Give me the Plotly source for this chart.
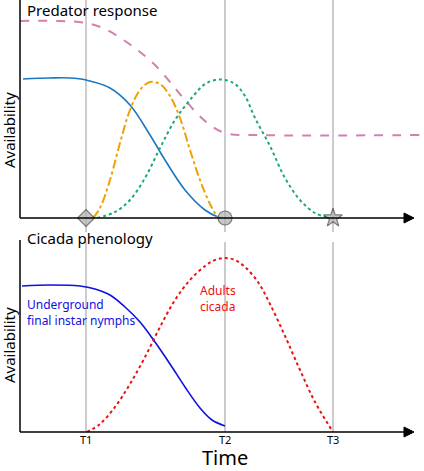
import plotly.graph_objects as go

# top panel (x in time units of the sketch, y = availability)
pink_x = [20, 60, 86, 105, 125, 140, 155, 170, 185, 205, 225, 260, 422]
pink_y = [197, 197, 195, 189, 177, 166, 153, 136, 118, 97, 85, 83, 83]
blue_x = [23, 50, 70, 86, 110, 130, 150, 165, 185, 205, 218, 222]
blue_y = [139, 140, 140, 138, 130, 113, 83, 58, 28, 8, 1, 0]
orange_x = [93, 100, 110, 120, 130, 140, 150, 160, 170, 180, 190, 200, 210, 218]
orange_y = [0, 10, 38, 75, 108, 128, 136, 134, 122, 100, 68, 38, 14, 0]
green_x = [97, 115, 130, 145, 160, 175, 190, 205, 215, 225, 235, 245, 255, 270, 285, 300, 315, 330]
green_y = [0, 6, 18, 40, 70, 98, 118, 134, 138, 138, 134, 122, 100, 72, 40, 18, 5, 0]
mark_x = [86, 225, 333]
mark_sym = ["diamond", "circle", "star"]

# bottom panel
nymph_x = [22, 50, 80, 95, 110, 125, 140, 155, 170, 185, 200, 212, 225]
nymph_y = [146, 147, 146, 143, 137, 125, 110, 90, 68, 45, 24, 12, 6]
adult_x = [87, 100, 115, 130, 145, 160, 175, 190, 205, 215, 225, 235, 245, 258, 270, 285, 300, 315, 333]
adult_y = [0, 8, 25, 48, 75, 105, 132, 152, 166, 172, 174, 172, 165, 150, 128, 96, 62, 30, 0]

ticks = [86, 225, 333]
tick_text = ["T1", "T2", "T3"]

fig = go.Figure()
spl = dict(shape="spline", smoothing=1.0)
fig.add_trace(go.Scatter(x=pink_x, y=pink_y, mode="lines", line=dict(color="#d47fb0", width=2, dash="dash", **spl)))
fig.add_trace(go.Scatter(x=blue_x, y=blue_y, mode="lines", line=dict(color="#1a78c2", width=1.6, **spl)))
fig.add_trace(go.Scatter(x=orange_x, y=orange_y, mode="lines", line=dict(color="#f0a000", width=2, dash="dashdot", **spl)))
fig.add_trace(go.Scatter(x=green_x, y=green_y, mode="lines", line=dict(color="#1aaa7a", width=2, dash="dot", **spl)))
fig.add_trace(go.Scatter(x=mark_x, y=[0, 0, 0], mode="markers", cliponaxis=False,
                         marker=dict(symbol=mark_sym, size=[13, 14, 14], color="#b0b0b0",
                                     line=dict(color="#444", width=1.2))))
fig.add_trace(go.Scatter(x=nymph_x, y=nymph_y, mode="lines", xaxis="x2", yaxis="y2",
                         line=dict(color="#1010e0", width=1.6, **spl)))
fig.add_trace(go.Scatter(x=adult_x, y=adult_y, mode="lines", xaxis="x2", yaxis="y2",
                         line=dict(color="#ee1010", width=2, dash="dot", **spl)))

ax = dict(range=[0, 424], showgrid=False, zeroline=False, showticklabels=False, fixedrange=True)
fig.update_layout(
    width=424, height=471, margin=dict(l=0, r=0, t=0, b=0),
    plot_bgcolor="white", paper_bgcolor="white", showlegend=False,
    font=dict(family="Noto Sans", color="black"),
    xaxis=dict(domain=[0, 1], **ax),
    yaxis=dict(domain=[1 - 218 / 471, 1], range=[0, 218], visible=False),
    xaxis2=dict(domain=[0, 1], anchor="y2", **ax),
    yaxis2=dict(domain=[1 - 432 / 471, 1 - 238 / 471], range=[0, 194], visible=False),
)

shapes = []
for t in ticks:
    shapes.append(dict(type="line", xref="x", yref="paper", x0=t, x1=t, y0=1 - 232 / 471, y1=1,
                       line=dict(color="#aaaaaa", width=1.2), layer="below"))
    shapes.append(dict(type="line", xref="x", yref="paper", x0=t, x1=t, y0=1 - 432 / 471, y1=1 - 242 / 471,
                       line=dict(color="#aaaaaa", width=1.2), layer="below"))
for y0, y1 in [(218, 0), (432, 240)]:
    shapes.append(dict(type="line", xref="x", yref="paper", x0=20, x1=20, y0=1 - y0 / 471, y1=1 - y1 / 471,
                       line=dict(color="black", width=1.5)))
    shapes.append(dict(type="line", xref="x", yref="paper", x0=20, x1=405, y0=1 - y0 / 471, y1=1 - y0 / 471,
                       line=dict(color="black", width=1.5)))
    shapes.append(dict(type="path", xref="x", yref="paper",
                       path=f"M 404 {1 - (y0 - 5) / 471} L 414 {1 - y0 / 471} L 404 {1 - (y0 + 5) / 471} Z",
                       fillcolor="black", line=dict(color="black", width=1)))
fig.update_layout(shapes=shapes)

ann = [
    dict(x=25, y=1 - 10 / 471, text="Predator response", font=dict(size=15)),
    dict(x=25, y=1 - 238 / 471, text="Cicada phenology", font=dict(size=15)),
    dict(x=25, y=1 - 312 / 471, text="Underground<br>final instar nymphs",
         font=dict(size=12, color="#1010e0"), align="left", yanchor="middle"),
    dict(x=198, y=1 - 298 / 471, text="Adults<br>cicada", font=dict(size=12, color="#ee1010"),
         align="left", yanchor="middle"),
    dict(x=225, y=1 - 457 / 471, text="Time", font=dict(size=20), xanchor="center", yanchor="middle"),
    dict(x=9, y=1 - 130 / 471, text="Availability", textangle=-90, font=dict(size=15),
         xanchor="center", yanchor="middle"),
    dict(x=9, y=1 - 345 / 471, text="Availability", textangle=-90, font=dict(size=15),
         xanchor="center", yanchor="middle"),
]
for t, lab in zip(ticks, tick_text):
    ann.append(dict(x=t, y=1 - 439 / 471, text=lab, font=dict(size=11), xanchor="center", yanchor="middle"))
for a in ann:
    a.setdefault("xref", "x")
    a.setdefault("yref", "paper")
    a.setdefault("xanchor", "left")
    a.setdefault("yanchor", "middle")
    a["showarrow"] = False
fig.update_layout(annotations=ann)

fig.write_html("out.html", config={"displayModeBar": False},
               post_script="document.body.style.margin='0';")
